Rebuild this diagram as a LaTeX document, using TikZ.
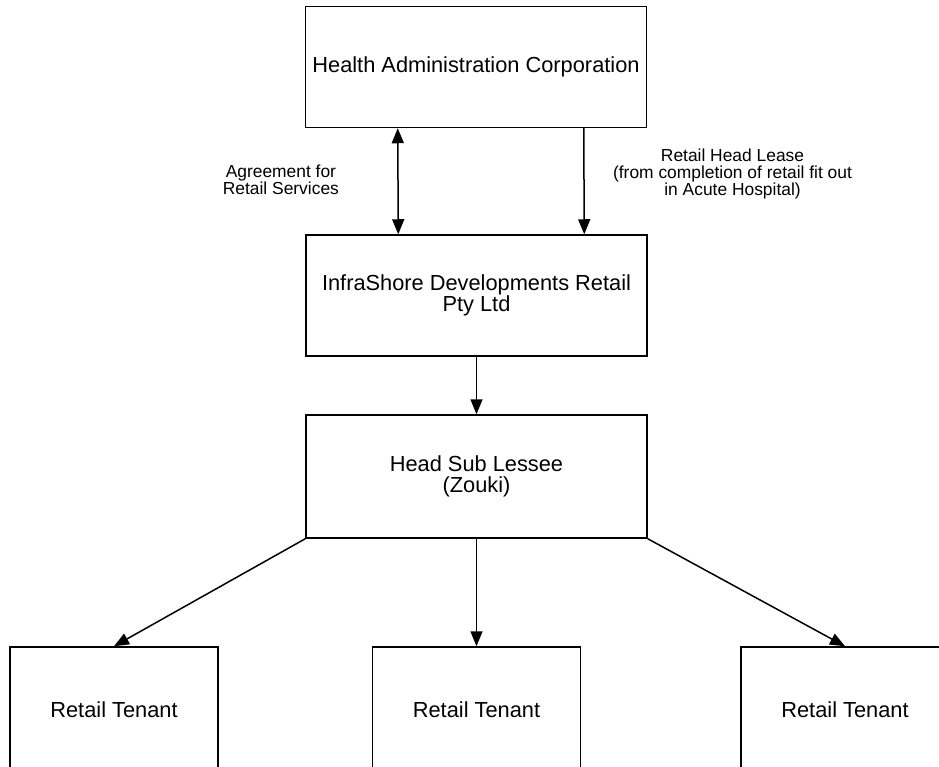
\documentclass[tikz,border=0pt]{standalone}
\usepackage{fontspec}
\setmainfont{Liberation Sans}
\usetikzlibrary{arrows.meta, positioning}

\begin{document}
\begin{tikzpicture}[x=1pt, y=-1pt, >={Triangle[length=15pt,width=12pt]},
    box/.style={draw, line width=1.5pt, minimum width=341pt, minimum height=121pt,
        inner sep=0pt, align=center, font=\fontsize{21.8}{21}\selectfont},
    tenant/.style={box, minimum width=208pt, minimum height=126pt},
    link/.style={line width=1.5pt, ->},
    note/.style={align=center, font=\fontsize{17.4}{17}\selectfont}]
    \clip (0,0) rectangle (939,767);

    % Boxes
    \node[box] (hac) at (476,67) {Health Administration Corporation};
    \node[box] (isd) at (476.5,295.5) {InfraShore Developments Retail\\Pty Ltd};
    \node[box, minimum height=123pt] (hsl) at (476.5,476.5) {Head Sub Lessee\\(Zouki)};
    \node[tenant] (rt1) at (114,710) {Retail Tenant};
    \node[tenant] (rt2) at (476.5,710) {Retail Tenant};
    \node[tenant] (rt3) at (845,710) {Retail Tenant};

    % Links
    \draw[link, <->] ([xshift=93pt]hac.south west) -- ([xshift=93pt]isd.north west)
        node[note, midway, left=55pt, yshift=1pt] {Agreement for\\Retail Services};
    \draw[link] ([xshift=279pt]hac.south west) -- ([xshift=279pt]isd.north west)
        node[note, midway, right=25pt, yshift=7pt] {Retail Head Lease\\(from completion of retail fit out\\in Acute Hospital)};
    \draw[link] (isd.south) -- (hsl.north);
    \draw[link] (hsl.south west) -- (rt1.north);
    \draw[link] (hsl.south) -- (rt2.north);
    \draw[link] (hsl.south east) -- (rt3.north);
\end{tikzpicture}
\end{document}
